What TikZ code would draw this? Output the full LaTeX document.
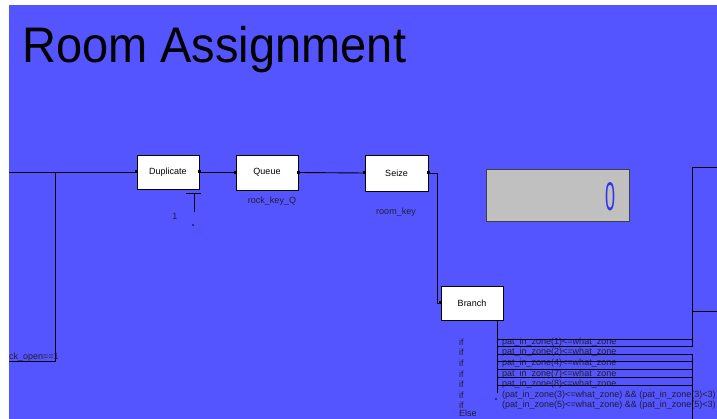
\documentclass[tikz,border=0pt]{standalone}
\usepackage{fontspec}
\setmainfont{Liberation Sans}
\usetikzlibrary{positioning}
\definecolor{canvasblue}{RGB}{85,85,255}
\definecolor{displaygray}{RGB}{192,192,192}
\definecolor{digitblue}{RGB}{50,50,240}
\definecolor{labelgray}{RGB}{30,30,50}

\begin{document}
\begin{tikzpicture}[x=1pt, y=-1pt,
    block/.style={draw=black, fill=white, line width=0.9pt, minimum width=62pt,
        minimum height=34pt, inner sep=0pt, font=\fontsize{9}{10}\selectfont},
    port/.style={fill=black, minimum size=3pt, inner sep=0pt},
    wire/.style={line width=0.9pt},
    tag/.style={font=\fontsize{9}{10}\selectfont, text=labelgray, inner sep=0pt}]
    \useasboundingbox (0,0) rectangle (717,419);
    \clip (0,0) rectangle (717,419);

    % Canvas
    \fill[white] (0,0) rectangle (717,419);
    \fill[canvasblue] (9,5) rectangle (717,419);

    % Title
    \node[anchor=base west, inner sep=0pt] (title) at (22,63)
        {\scalebox{0.94}[1]{\fontsize{50}{50}\selectfont Room Assignment}};

    % Blocks
    \node[block] (dup) at (168,172) {Duplicate};
    \node[block, minimum height=35pt] (queue) at (267,172.5) {Queue};
    \node[block, minimum width=63pt, minimum height=36pt] (seize) at (396.5,173) {Seize};
    \node[block] (branch) at (472,303) {Branch};
    \node[draw=black!75, fill=displaygray, line width=1pt, minimum width=143pt,
        minimum height=52pt, inner sep=0pt] (display) at (557.5,196) {};
    \node[text=digitblue, inner sep=0pt] (count) at (610,197)
        {\scalebox{0.45}[1]{\fontsize{40}{40}\selectfont 0}};

    % Block labels
    \node[tag] (qname) at (272,201) {rock\_key\_Q};
    \node[tag] (rname) at (396,212) {room\_key};

    % Input and guard
    \coordinate (inlet) at (9,172);
    \coordinate (tap) at (55,172);
    \coordinate (tapend) at (9,361);
    \draw[wire] (inlet) -- (dup.west);
    \draw[wire] (tap) |- (tapend);
    \node[tag, anchor=base west] (guard) at (9,359.5) {ck\_open==1};

    % Duplicate count input
    \coordinate (cntbar) at (194.5,193);
    \draw[wire] ([xshift=-8.5pt]cntbar) -- ([xshift=6pt]cntbar);
    \draw[wire] (cntbar) -- ++(0,19);
    \node[tag] (cnt) at (175,216) {1};
    \fill (193,225) circle (0.8);

    % Flow
    \draw[wire] (dup.east) -- ++(19,0) |- (queue.west);
    \draw[wire] (queue.east) -- (seize.west);
    \draw[wire] (seize.east) -- ++(9,0) |- (branch.west);
    \foreach \p in {dup.west, dup.east, queue.west, queue.east, seize.west, seize.east, branch.west}
        \node[port] at (\p) {};

    % Branch bus
    \coordinate (bustop) at ([xshift=25pt]branch.south);
    \coordinate (busend) at (497,393);
    \draw[wire] (bustop) -- (busend);
    \fill (496,399) circle (0.8);

    % Conditions
    \foreach \txt [count=\i from 0] in {pat\_in\_zone(1)<=what\_zone, pat\_in\_zone(2)<=what\_zone,
        pat\_in\_zone(4)<=what\_zone, pat\_in\_zone(7)<=what\_zone, pat\_in\_zone(8)<=what\_zone,
        {(pat\_in\_zone(3)<=what\_zone) \&\& (pat\_in\_zone(3)<3)},
        {(pat\_in\_zone(5)<=what\_zone) \&\& (pat\_in\_zone(5)<3)}} {
        \node[tag, anchor=west] (if\i) at (459,{342+10.6*\i}) {if};
        \node[tag, anchor=west] (c\i) at (502,{342+10.6*\i}) {\txt};
    }
    \node[tag, anchor=west] (else) at (459,413.5) {Else};

    % Outputs
    \coordinate (outA) at (717,167);
    \coordinate (outB) at (717,311);
    \coordinate (outC) at (692,419);
    \foreach \yy in {339,346.5,354,361.5,369,377,385}
        \draw[wire] (497,\yy) -- (692,\yy);
    \draw[wire] (692,346.5) |- (outA);
    \draw[wire] (692,339) |- (outB);
    \draw[wire] (692,354) -- (outC);
\end{tikzpicture}
\end{document}
